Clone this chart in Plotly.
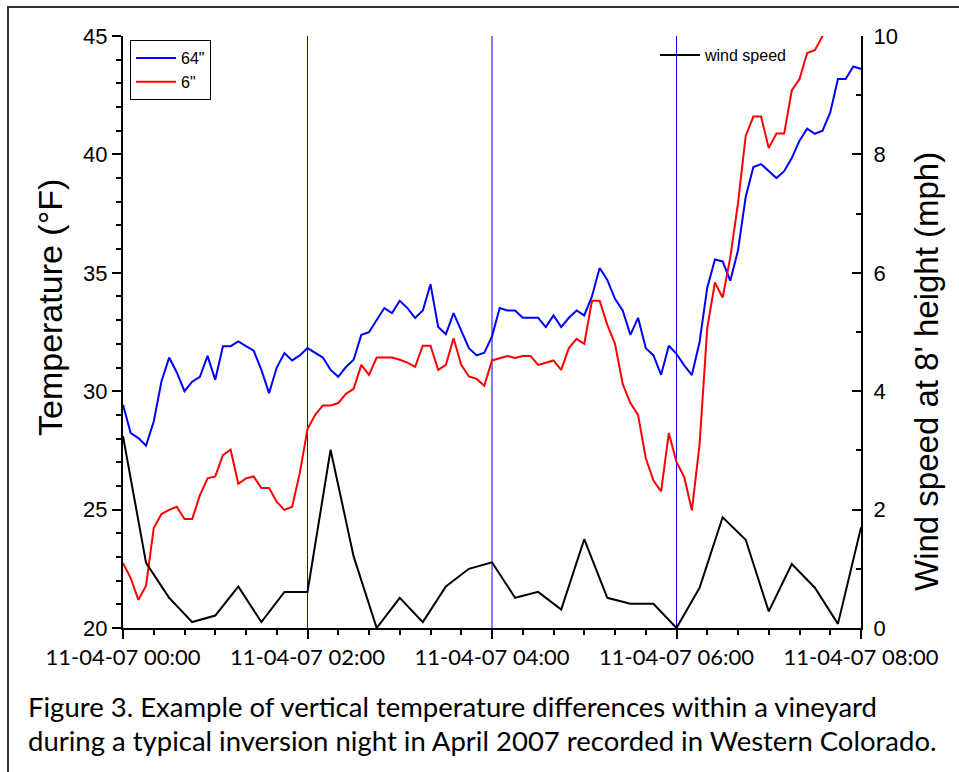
import pandas as pd
import plotly.graph_objects as go

# 5-minute temperature readings, 00:00 .. 08:00 (97 points)
temp_times = pd.date_range("2007-04-11 00:00", "2007-04-11 08:00", freq="5min")
temp_64in = [
    29.43, 28.23, 28.02, 27.70, 28.72, 30.41, 31.42, 30.79, 30.00, 30.40, 30.61, 31.49, 30.48,
    31.90, 31.90, 32.10, 31.90, 31.71, 30.90, 29.92, 31.00, 31.61, 31.30, 31.51, 31.82,
    31.61, 31.42, 30.90, 30.61, 31.02, 31.33, 32.38, 32.49, 33.01, 33.51, 33.30, 33.82,
    33.51, 33.09, 33.41, 34.52, 32.71, 32.41, 33.30, 32.59, 31.82, 31.51, 31.63, 32.31,
    33.51, 33.41, 33.41, 33.10, 33.10, 33.10, 32.71, 33.20, 32.71, 33.10, 33.41, 33.20,
    34.00, 35.20, 34.70, 33.90, 33.41, 32.38, 33.10, 31.82, 31.51, 30.69, 31.92, 31.58,
    31.09, 30.68, 32.08, 34.37, 35.56, 35.48, 34.66, 35.95, 38.20, 39.47, 39.59, 39.29,
    39.00, 39.29, 39.85, 40.58, 41.09, 40.87, 41.00, 41.77, 43.18, 43.18, 43.71, 43.61,
]
temp_6in = [
    22.74, 22.11, 21.19, 21.79, 24.22, 24.81, 24.99, 25.12, 24.60, 24.60, 25.60, 26.32, 26.40,
    27.30, 27.53, 26.09, 26.32, 26.40, 25.91, 25.91, 25.32, 24.99, 25.12, 26.54, 28.40,
    29.00, 29.40, 29.40, 29.50, 29.89, 30.10, 31.11, 30.69, 31.42, 31.42, 31.42, 31.33,
    31.21, 31.03, 31.92, 31.92, 30.90, 31.11, 32.24, 31.11, 30.62, 30.52, 30.23, 31.30,
    31.40, 31.49, 31.40, 31.49, 31.49, 31.11, 31.20, 31.30, 30.90, 31.82, 32.21, 32.00,
    33.82, 33.82, 32.80, 32.00, 30.31, 29.50, 29.00, 27.18, 26.23, 25.77, 28.23, 27.00,
    26.38, 24.97, 27.74, 32.67, 34.59, 33.95, 35.65, 37.94, 40.78, 41.60, 41.60, 40.27,
    40.88, 40.88, 42.70, 43.18, 44.28, 44.40, 45.00, 45.60, 46.10, 46.50, 46.90, 47.30,
]

# 15-minute wind speed readings (33 points)
wind_times = pd.date_range("2007-04-11 00:00", "2007-04-11 08:00", freq="15min")
wind_mph = [
    3.24, 1.10, 0.51, 0.10, 0.21, 0.70, 0.10, 0.61, 0.61,
    3.01, 1.21, 0.00, 0.51, 0.10, 0.70, 1.00, 1.11,
    0.51, 0.61, 0.31, 1.50, 0.51, 0.41, 0.41, 0.00,
    0.68, 1.87, 1.49, 0.28, 1.08, 0.68, 0.07, 1.70,
]

marker_lines = ["2007-04-11 02:00", "2007-04-11 04:00", "2007-04-11 06:00"]

caption = [
    "Figure 3. Example of vertical temperature differences within a vineyard",
    "during a typical inversion night in April 2007 recorded in Western Colorado.",
]
left_title = "Temperature (°F)"
right_title = "Wind speed at 8' height (mph)"

ARIAL = "Liberation Sans, Arial, sans-serif"
CAPF = "Lato, Carlito, Calibri, sans-serif"

fig = go.Figure()
fig.add_trace(go.Scatter(x=temp_times, y=temp_64in, name='64"', mode="lines",
                         line=dict(color="#0000ff", width=2), legend="legend"))
fig.add_trace(go.Scatter(x=temp_times, y=temp_6in, name='6"', mode="lines",
                         line=dict(color="#ff0000", width=2), legend="legend"))
fig.add_trace(go.Scatter(x=wind_times, y=wind_mph, name="wind speed", mode="lines",
                         line=dict(color="#000000", width=2), yaxis="y2", legend="legend2"))

for t in marker_lines:
    fig.add_shape(type="line", xref="x", yref="paper", x0=t, x1=t, y0=0, y1=1,
                  line=dict(color="#0000ff", width=1), layer="below")


def px(xp):
    return (xp - 123) / 738.0


def py(yp):
    return (628 - yp) / 592.0


# outer frame
fig.add_shape(type="rect", xref="paper", yref="paper", x0=px(8), x1=px(1010), y0=py(7), y1=py(800),
              line=dict(color="#333333", width=2), fillcolor="rgba(0,0,0,0)")

for i, line in enumerate(caption):
    fig.add_annotation(text=line, xref="paper", yref="paper", x=px(26), y=py(706 + 34 * i),
                       xanchor="left", yanchor="middle", showarrow=False,
                       font=dict(family=CAPF, size=27.5, color="#000"))

# axis titles
fig.add_annotation(text=left_title, xref="paper", yref="paper", x=px(50), y=py(308),
                   xanchor="center", yanchor="middle", textangle=-90, showarrow=False,
                   font=dict(family=ARIAL, size=34, color="#000"))
fig.add_annotation(text=right_title, xref="paper", yref="paper", x=px(926), y=py(372),
                   xanchor="center", yanchor="middle", textangle=-90, showarrow=False,
                   font=dict(family=ARIAL, size=33, color="#000"))

fig.update_layout(
    width=959, height=772,
    margin=dict(l=123, r=98, t=36, b=144),
    paper_bgcolor="white", plot_bgcolor="white",
    xaxis=dict(
        type="date",
        range=["2007-04-11 00:00", "2007-04-11 08:00"],
        tick0="2007-04-11 00:00", dtick=7200000,
        tickformat="%d-%m-%y %H:%M",
        ticks="outside", ticklen=9, tickwidth=2, tickcolor="#000",
        showline=True, linecolor="#000", linewidth=2,
        showgrid=False, zeroline=False,
        minor=dict(dtick=1200000, ticks="outside", ticklen=5, tickwidth=2, tickcolor="#000", showgrid=False),
        tickfont=dict(family=CAPF, size=22, color="#000"),
    ),
    yaxis=dict(
        range=[20, 45], dtick=5,
        ticks="outside", ticklen=9, tickwidth=2, tickcolor="#000",
        showline=True, linecolor="#000", linewidth=2,
        showgrid=False, zeroline=False,
        minor=dict(dtick=1, ticks="outside", ticklen=5, tickwidth=2, tickcolor="#000", showgrid=False),
        tickfont=dict(family=ARIAL, size=22, color="#000"),
    ),
    yaxis2=dict(
        range=[0, 10], dtick=2, overlaying="y", side="right",
        ticks="inside", ticklen=9, tickwidth=2, tickcolor="#000",
        showline=True, linecolor="#000", linewidth=2,
        showgrid=False, zeroline=False,
        minor=dict(dtick=1, ticks="inside", ticklen=5, tickwidth=2, tickcolor="#000", showgrid=False),
        tickfont=dict(family=ARIAL, size=22, color="#000"),
        ticklabelstandoff=6,
    ),
    legend=dict(x=px(130), y=py(40), xanchor="left", yanchor="top",
                bordercolor="#000", borderwidth=1, bgcolor="white",
                font=dict(family=ARIAL, size=16, color="#000"),
                itemwidth=40, tracegroupgap=0),
    legend2=dict(x=px(655), y=py(38), xanchor="left", yanchor="top",
                 bgcolor="rgba(0,0,0,0)", borderwidth=0,
                 font=dict(family=ARIAL, size=16, color="#000"), itemwidth=40),
)

fig.write_html("out.html")
